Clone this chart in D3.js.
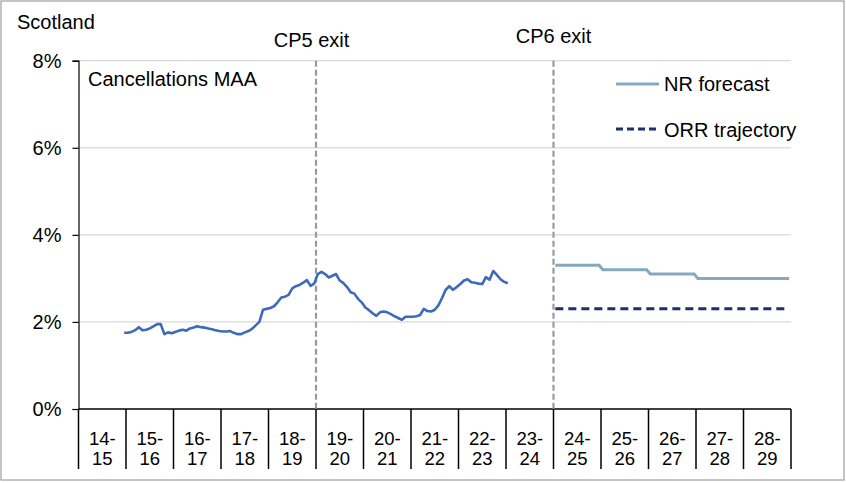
<!DOCTYPE html>
<html>
<head>
<meta charset="utf-8">
<script src="https://cdn.jsdelivr.net/npm/d3@7"></script>
<style>
  html, body { margin: 0; padding: 0; background: #fff; }
  svg { display: block; font-family: "Liberation Sans", Arial, sans-serif; }
</style>
</head>
<body>
<svg id="chart" width="846" height="483"></svg>
<script>
// ---- Data ----
const years = ["14-15","15-16","16-17","17-18","18-19","19-20","20-21","21-22","22-23","23-24","24-25","25-26","26-27","27-28","28-29"];
const periodsPerYear = 13;
const yTicks = [0, 2, 4, 6, 8];
const titleText = "Scotland";
const seriesLabel = "Cancellations MAA";
const cpMarkers = ["CP5 exit", "CP6 exit"];
const cpMarkerYears = ["19-20", "24-25"];
const legendLabels = ["NR forecast", "ORR trajectory"];

// Actual MAA, one value per period, starting at 14-15 P13
const actualStartYear = "14-15";
const actualStartPeriod = 13;
const actualMAA = [
  1.75,1.75,1.77,1.81,1.88,1.81,1.82,1.85,1.90,1.95,1.95,1.72,1.76,
  1.74,1.77,1.80,1.82,1.80,1.85,1.87,1.90,1.88,1.87,1.85,1.83,1.81,
  1.79,1.78,1.78,1.79,1.75,1.72,1.72,1.76,1.79,1.84,1.92,2.00,2.28,
  2.30,2.32,2.36,2.45,2.56,2.58,2.62,2.77,2.82,2.85,2.90,2.96,2.83,
  2.88,3.10,3.15,3.10,3.02,3.06,3.10,2.95,2.89,2.80,2.68,2.65,2.53,
  2.45,2.33,2.27,2.20,2.14,2.22,2.24,2.22,2.18,2.13,2.09,2.05,2.12,
  2.12,2.12,2.13,2.16,2.30,2.25,2.24,2.28,2.38,2.55,2.74,2.82,2.74,
  2.80,2.87,2.95,2.98,2.91,2.90,2.88,2.87,3.03,2.97,3.17,3.08,2.98,
  2.92,2.89
];

// Forecasts, one value per period from 24-25 P1 to 28-29 P13
const forecastStartYear = "24-25";
const nrForecast = [
  3.3,3.3,3.3,3.3,3.3,3.3,3.3,3.3,3.3,3.3,3.3,3.3,3.3,
  3.2,3.2,3.2,3.2,3.2,3.2,3.2,3.2,3.2,3.2,3.2,3.2,3.2,
  3.1,3.1,3.1,3.1,3.1,3.1,3.1,3.1,3.1,3.1,3.1,3.1,3.1,
  3.0,3.0,3.0,3.0,3.0,3.0,3.0,3.0,3.0,3.0,3.0,3.0,3.0,
  3.0,3.0,3.0,3.0,3.0,3.0,3.0,3.0,3.0,3.0,3.0,3.0,3.0
];
const orrTrajectory = [
  2.3,2.3,2.3,2.3,2.3,2.3,2.3,2.3,2.3,2.3,2.3,2.3,2.3,
  2.3,2.3,2.3,2.3,2.3,2.3,2.3,2.3,2.3,2.3,2.3,2.3,2.3,
  2.3,2.3,2.3,2.3,2.3,2.3,2.3,2.3,2.3,2.3,2.3,2.3,2.3,
  2.3,2.3,2.3,2.3,2.3,2.3,2.3,2.3,2.3,2.3,2.3,2.3,2.3,
  2.3,2.3,2.3,2.3,2.3,2.3,2.3,2.3,2.3,2.3,2.3,2.3,2.3
];

// ---- Layout ----
const svg = d3.select("#chart");
const W = 846, H = 483;
const plot = { left: 78.5, right: 791, top: 60.7, bottom: 409 };
const font = '"Liberation Sans", Arial, sans-serif';

// Outer border
svg.append("rect").attr("x", 1).attr("y", 1).attr("width", W - 3).attr("height", H - 4)
  .attr("fill", "#fff").attr("stroke", "#a6a6a6").attr("stroke-width", 1.3);

const xBand = d3.scaleBand().domain(years).range([plot.left, plot.right]).paddingInner(0).paddingOuter(0);
const xPeriod = d3.scaleLinear().domain([0, years.length * periodsPerYear]).range([plot.left, plot.right]);
const y = d3.scaleLinear().domain([0, 8]).range([plot.bottom, plot.top]);

// Gridlines
svg.append("g").selectAll("line").data(yTicks.filter(t => t > 0)).join("line")
  .attr("x1", plot.left).attr("x2", plot.right)
  .attr("y1", d => y(d)).attr("y2", d => y(d))
  .attr("stroke", "#d9d9d9").attr("stroke-width", 1.3);

// Y axis
const yAxis = svg.append("g").attr("transform", `translate(${plot.left},0)`)
  .call(d3.axisLeft(y).tickValues(yTicks).tickFormat(d => d + "%").tickSize(6).tickPadding(11));
yAxis.select(".domain").attr("stroke", "#000").attr("stroke-width", 1.2);
yAxis.selectAll(".tick line").attr("stroke", "#000").attr("stroke-width", 1.2);
yAxis.selectAll(".tick text").attr("font-size", 20).attr("font-family", font).attr("fill", "#000").attr("dy", "0.34em");

// X axis baseline and category separators
svg.append("line").attr("x1", plot.left).attr("x2", plot.right)
  .attr("y1", y(0)).attr("y2", y(0)).attr("stroke", "#000").attr("stroke-width", 1.5);
const bounds = years.map(d => xBand(d)).concat([plot.right]);
svg.append("g").selectAll("line").data(bounds).join("line")
  .attr("x1", d => d).attr("x2", d => d)
  .attr("y1", y(0)).attr("y2", 469)
  .attr("stroke", "#000").attr("stroke-width", 1.5);

// Category labels (two lines)
const xl = svg.append("g").selectAll("text").data(years).join("text")
  .attr("x", d => xBand(d) + xBand.bandwidth() / 2)
  .attr("text-anchor", "middle").attr("font-size", 18.5).attr("font-family", font).attr("fill", "#000");
xl.append("tspan").attr("x", d => xBand(d) + xBand.bandwidth() / 2).attr("y", 444.5).text(d => d.split("-")[0] + "-");
xl.append("tspan").attr("x", d => xBand(d) + xBand.bandwidth() / 2).attr("y", 464.5).text(d => d.split("-")[1]);

// CP dashed markers
const cpLabelY = [46.5, 43];
cpMarkerYears.forEach((yr, i) => {
  const x = xBand(yr);
  svg.append("line").attr("x1", x).attr("x2", x).attr("y1", plot.top).attr("y2", plot.bottom)
    .attr("stroke", "#9a9a9a").attr("stroke-width", 2.2).attr("stroke-dasharray", "6,3");
  svg.append("text").attr("x", x - (i === 0 ? 4.5 : 0)).attr("y", cpLabelY[i]).attr("text-anchor", "middle")
    .attr("font-size", 20).attr("font-family", font).attr("fill", "#000").text(cpMarkers[i]);
});

// Lines
const actualOffset = years.indexOf(actualStartYear) * periodsPerYear + (actualStartPeriod - 1);
const forecastOffset = years.indexOf(forecastStartYear) * periodsPerYear;
const line = d3.line().x(d => xPeriod(d.i + 0.5)).y(d => y(d.v));

svg.append("path").datum(actualMAA.map((v, k) => ({ i: actualOffset + k, v })))
  .attr("d", line).attr("fill", "none").attr("stroke", "#3d6ab9").attr("stroke-width", 2.6)
  .attr("stroke-linejoin", "round");

svg.append("path").datum(orrTrajectory.map((v, k) => ({ i: forecastOffset + k, v })))
  .attr("d", line).attr("fill", "none").attr("stroke", "#1f2d6b").attr("stroke-width", 3)
  .attr("stroke-dasharray", "8,5");

svg.append("path").datum(nrForecast.map((v, k) => ({ i: forecastOffset + k, v })))
  .attr("d", line).attr("fill", "none").attr("stroke", "#86a9bd").attr("stroke-width", 3);

// Legend
const legend = svg.append("g");
legend.append("line").attr("x1", 616).attr("x2", 659).attr("y1", 84).attr("y2", 84)
  .attr("stroke", "#86a9bd").attr("stroke-width", 3);
legend.append("text").attr("x", 664).attr("y", 91).attr("font-size", 20).attr("font-family", font).text(legendLabels[0]);
legend.append("line").attr("x1", 616).attr("x2", 659).attr("y1", 129).attr("y2", 129)
  .attr("stroke", "#1f2d6b").attr("stroke-width", 3).attr("stroke-dasharray", "7,4");
legend.append("text").attr("x", 664).attr("y", 136.5).attr("font-size", 20).attr("font-family", font).text(legendLabels[1]);

// Titles
svg.append("text").attr("x", 17).attr("y", 29).attr("font-size", 20).attr("font-family", font).text(titleText);
svg.append("text").attr("x", 88).attr("y", 86).attr("font-size", 20).attr("font-family", font).text(seriesLabel);
</script>
</body>
</html>
